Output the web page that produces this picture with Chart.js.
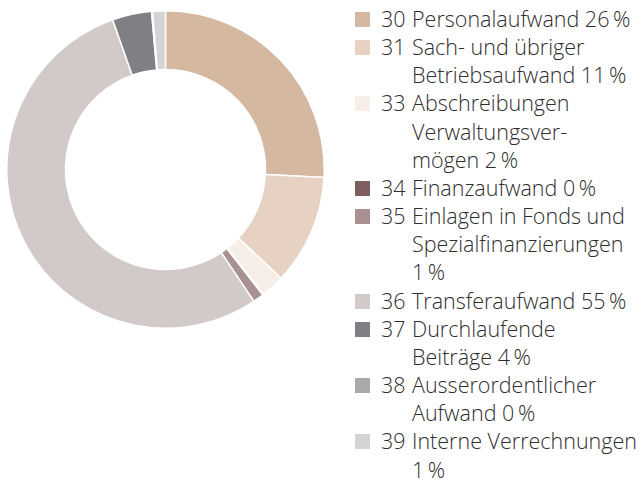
<!DOCTYPE html>
<html>
<head>
<meta charset="utf-8">
<script src="https://cdn.jsdelivr.net/npm/chart.js@4/dist/chart.umd.min.js"></script>
<style>
  html, body { margin: 0; padding: 0; background: #fff; }
  body { width: 641px; height: 487px; position: relative; overflow: hidden;
         font-family: "Open Sans", "Liberation Sans", sans-serif; font-weight: 300; color: #2e2e2e; }
  #chartBox { position: absolute; left: 6px; top: 10px; width: 319px; height: 319px; }
  #legend { position: absolute; left: 355px; top: 5px; width: 290px; list-style: none;
            margin: 0; padding: 0; font-size: 21.5px; line-height: 28.15px;
            white-space: pre-line; }
  #legend li { position: relative; padding-left: 57px; }
  #legend .box { position: absolute; left: 0; top: 7px; width: 15px; height: 15px; }
  #legend .num { position: absolute; left: 26px; top: 0; }
</style>
</head>
<body>
<div id="chartBox"><canvas id="donut"></canvas></div>
<ul id="legend"></ul>
<script>
const codes = ["30", "31", "33", "34", "35", "36", "37", "38", "39"];
const names = [
  "Personalaufwand",
  "Sach- und übriger\nBetriebsaufwand",
  "Abschreibungen\nVerwaltungsver-\nmögen",
  "Finanzaufwand",
  "Einlagen in Fonds und\nSpezialfinanzierungen\n",
  "Transferaufwand",
  "Durchlaufende\nBeiträge",
  "Ausserordentlicher\nAufwand",
  "Interne Verrechnungen\n"
];
const percents = [26, 11, 2, 0, 1, 55, 4, 0, 1];
const values = [25.8, 11.2, 2.4, 0.1, 1.1, 54.0, 4.0, 0.1, 1.3];
const colors = ["#d5b8a0", "#e6d1c3", "#f6eee7", "#7e5f60", "#a89190",
                "#d1cac9", "#808084", "#a9a9ab", "#d4d4d6"];

const ctx = document.getElementById("donut").getContext("2d");
new Chart(ctx, {
  type: "doughnut",
  data: {
    labels: names.map(n => n.replace(/\n/g, " ").trim()),
    datasets: [{
      data: values,
      backgroundColor: colors,
      borderColor: "#ffffff",
      borderWidth: 1.5
    }]
  },
  options: {
    responsive: true,
    maintainAspectRatio: false,
    animation: false,
    cutout: "63%",
    plugins: {
      legend: { display: false },
      tooltip: { enabled: false }
    }
  }
});

const list = document.getElementById("legend");
codes.forEach((code, i) => {
  const li = document.createElement("li");
  const sep = names[i].endsWith("\n") ? "" : " ";
  li.innerHTML = `<span class="box" style="background:${colors[i]}"></span>` +
    `<span class="num">${code}</span>${names[i]}${sep}${percents[i]}\u2009%`;
  list.appendChild(li);
});
</script>
</body>
</html>
